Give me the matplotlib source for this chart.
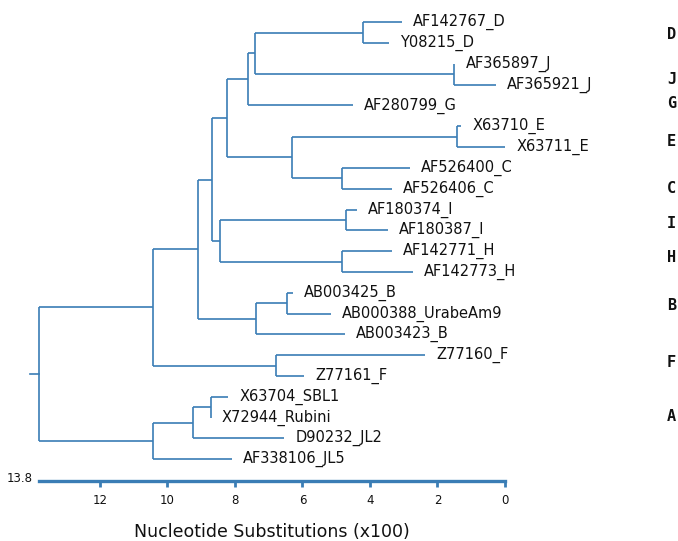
import matplotlib
matplotlib.use("Agg")
import matplotlib.pyplot as plt

# ---- data ----
leaf_names = ["AF142767_D", "Y08215_D", "AF365897_J", "AF365921_J", "AF280799_G",
              "X63710_E", "X63711_E", "AF526400_C", "AF526406_C", "AF180374_I",
              "AF180387_I", "AF142771_H", "AF142773_H", "AB003425_B",
              "AB000388_UrabeAm9", "AB003423_B", "Z77160_F", "Z77161_F",
              "X63704_SBL1", "X72944_Rubini", "D90232_JL2", "AF338106_JL5"]
leaf_heights = [3.06, 3.43, 1.50, 0.27, 4.50,
                1.30, 0.00, 2.81, 3.35, 4.38,
                3.46, 3.35, 2.72, 6.27,
                5.16, 4.74, 2.37, 5.94,
                8.19, 8.71, 6.54, 8.08]

node_names = ["nD", "nJ", "nDJ", "nDJG", "nE", "nC", "nEC", "nDJGEC", "nI", "nH",
              "nIH", "nUp", "nB1", "nB", "nX", "nF", "nXF", "nA1", "nA2", "nA", "root"]
node_children = [("AF142767_D", "Y08215_D"), ("AF365897_J", "AF365921_J"), ("nD", "nJ"),
                 ("nDJ", "AF280799_G"), ("X63710_E", "X63711_E"), ("AF526400_C", "AF526406_C"),
                 ("nE", "nC"), ("nDJG", "nEC"), ("AF180374_I", "AF180387_I"),
                 ("AF142771_H", "AF142773_H"), ("nI", "nH"), ("nDJGEC", "nIH"),
                 ("AB003425_B", "AB000388_UrabeAm9"), ("nB1", "AB003423_B"), ("nUp", "nB"),
                 ("Z77160_F", "Z77161_F"), ("nX", "nF"), ("X63704_SBL1", "X72944_Rubini"),
                 ("nA1", "D90232_JL2"), ("nA2", "AF338106_JL5"), ("nXF", "nA")]
node_heights = [4.20, 1.51, 7.40, 7.62, 1.43, 4.83, 6.31, 8.24, 4.71, 4.83,
                8.44, 8.68, 6.46, 7.38, 9.09, 6.79, 10.42, 8.71, 9.25, 10.42, 13.8]
root_stem = 0.27

clade_labels = ["D", "J", "G", "E", "C", "I", "H", "B", "F", "A"]
clade_label_pos = [0.6, 2.73, 3.9, 5.72, 8.0, 9.65, 11.33, 13.6, 16.33, 18.93]

x_ticks = [12, 10, 8, 6, 4, 2, 0]
x_max = 13.8
x_label = "Nucleotide Substitutions (x100)"

# ---- plot ----
W, H = 678, 541
fig = plt.figure(figsize=(W / 100, H / 100), dpi=100)
ax = fig.add_axes([39 / W, (H - 481) / H, (505 - 39) / W, (481 - 10) / H])
ax.set_xlim(x_max, 0)
ax.set_ylim(22.05, -0.59)

col = "#3a7db5"
lw = 1.2
txt = "#111111"

hx, hy = {}, {}
for n, h, y in zip(leaf_names, leaf_heights, range(len(leaf_names))):
    hx[n], hy[n] = h, y
for n, ch, h in zip(node_names, node_children, node_heights):
    ys = [hy[c] for c in ch]
    hx[n] = h
    hy[n] = (ys[0] + ys[-1]) / 2
    ax.plot([h, h], [ys[0], ys[-1]], color=col, lw=lw, clip_on=False, solid_capstyle="butt")
    for c in ch:
        ax.plot([h, hx[c]], [hy[c], hy[c]], color=col, lw=lw, clip_on=False,
                solid_capstyle="butt")
ax.plot([hx["root"], hx["root"] + root_stem], [hy["root"], hy["root"]], color=col, lw=lw,
        clip_on=False)

for n in leaf_names:
    ax.annotate(n, (hx[n], hy[n]), xytext=(8, 0), textcoords="offset points",
                va="center", ha="left", fontsize=10.5, color=txt,
                family="DejaVu Sans")

for lab, y in zip(clade_labels, clade_label_pos):
    ax.annotate(lab, (0, y), xytext=(667 - 505, 0), textcoords="offset pixels",
                va="center", ha="left", fontsize=11, fontweight="bold", color=txt,
                family="DejaVu Sans Mono")

for s in ["top", "left", "right"]:
    ax.spines[s].set_visible(False)
ax.spines["bottom"].set_color(col)
ax.spines["bottom"].set_linewidth(2.4)
ax.set_yticks([])
ax.set_xticks(x_ticks)
ax.set_xticklabels([str(t) for t in x_ticks], fontsize=8.5, color=txt)
ax.tick_params(axis="x", direction="out", length=4, width=2, color=col, pad=5)
ax.annotate(str(x_max), (x_max, 0), xycoords=("data", "axes fraction"),
            xytext=(-6, 3), textcoords="offset pixels", ha="right",
            va="center", fontsize=8.5, color=txt)
ax.set_xlabel(x_label, fontsize=12.5, color=txt, labelpad=12)
ax.patch.set_visible(False)

fig.savefig("out.png", dpi=100)
